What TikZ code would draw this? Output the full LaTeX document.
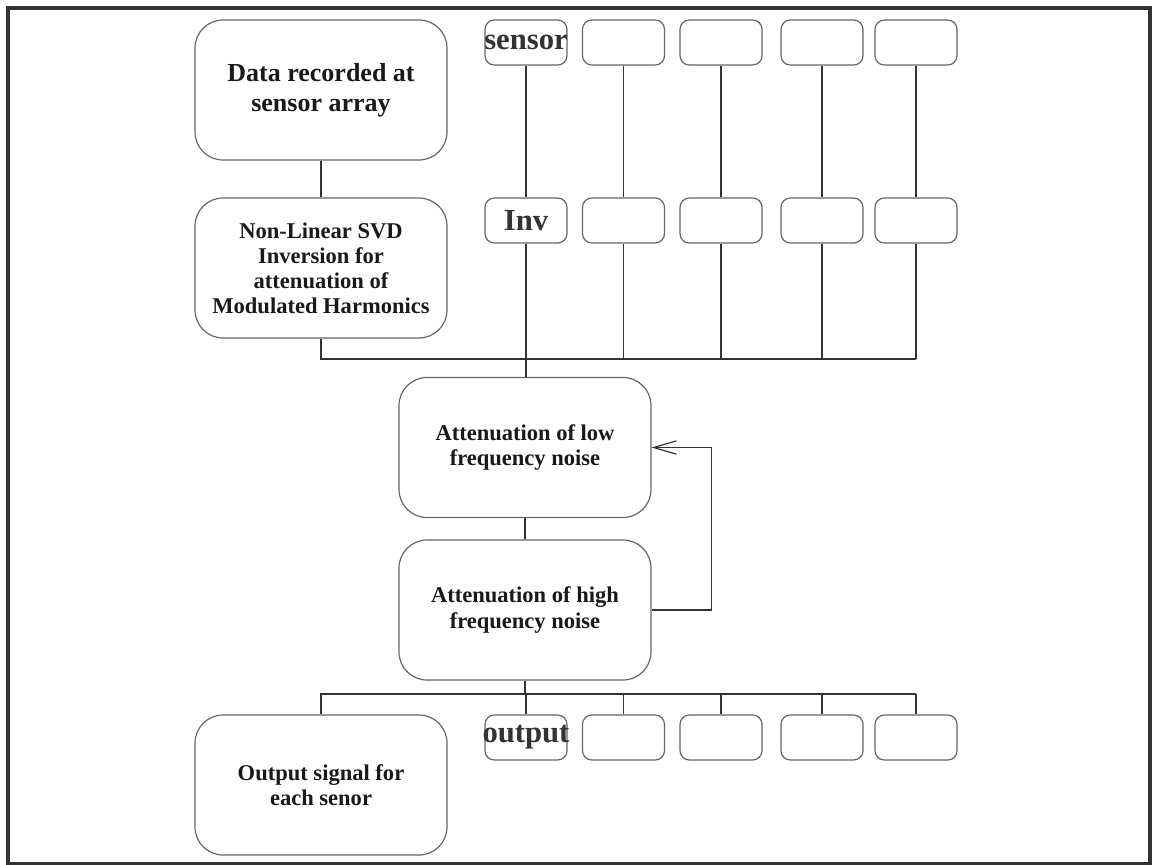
\documentclass[tikz,border=0pt]{standalone}
\usepackage{fontspec}
\setmainfont{Liberation Serif}
\usetikzlibrary{arrows.meta}
\tikzstyle{bigbox} = [rectangle, rounded corners=21pt, minimum width=189pt, minimum height=105pt, text centered, align=center, draw=black!60, line width=0.9pt, text=black!90, font=\bfseries\fontsize{16.9}{18.8}\selectfont]
\tikzstyle{smallbox} = [rectangle, rounded corners=7pt, minimum width=61.5pt, minimum height=33.75pt, inner sep=0pt, draw=black!60, line width=0.9pt]
\tikzstyle{tag} = [text=black!80, font=\bfseries\fontsize{23}{23}\selectfont]
\tikzstyle{wire} = [draw=black!80, line width=0.9pt]
\tikzstyle{arrow} = [wire, -{Straight Barb[length=17pt,width=10pt]}]

\begin{document}
\begin{tikzpicture}[x=0.75pt, y=-0.75pt]
				\useasboundingbox (0,0) rectangle (1152,864);
				\draw [black!80, line width=3pt] (8,8) rectangle (1150,864);	% frame

				% left column
				\node (data) [bigbox, font=\bfseries\fontsize{19.5}{22.5}\selectfont] at (321,90) {Data recorded at \\ sensor array};
				\node (nonlin) [bigbox] at (321,268) {Non-Linear SVD \\ Inversion for \\ attenuation of \\ Modulated Harmonics};
				\node (low) [bigbox] at (525,447.5) {Attenuation of low \\ frequency noise};
				\node (high) [bigbox] at (525,610) {Attenuation of high \\ frequency noise};
				\node (outsig) [bigbox] at (321,785) {Output signal for \\ each senor};

				% sensor row
				\node (s1) [smallbox, label={[tag]center:sensor}] at (526,42.5) {};
				\node (s2) [smallbox] at (623.5,42.5) {};
				\node (s3) [smallbox] at (721,42.5) {};
				\node (s4) [smallbox] at (822,42.5) {};
				\node (s5) [smallbox] at (916,42.5) {};

				% inversion row
				\node (i1) [smallbox, label={[tag]center:Inv}] at (526,220.5) {};
				\node (i2) [smallbox] at (623.5,220.5) {};
				\node (i3) [smallbox] at (721,220.5) {};
				\node (i4) [smallbox] at (822,220.5) {};
				\node (i5) [smallbox] at (916,220.5) {};

				% output row
				\node (o1) [smallbox, label={[tag]center:output}] at (526,737.5) {};
				\node (o2) [smallbox] at (623.5,737.5) {};
				\node (o3) [smallbox] at (721,737.5) {};
				\node (o4) [smallbox] at (822,737.5) {};
				\node (o5) [smallbox] at (916,737.5) {};

				\coordinate (topbus) at (916,359);
				\coordinate (botbus) at (916,694);

				\draw [wire] (data) -- (nonlin);
				\draw [wire] (s1) -- (i1);
				\draw [wire] (s2) -- (i2);
				\draw [wire] (s3) -- (i3);
				\draw [wire] (s4) -- (i4);
				\draw [wire] (s5) -- (i5);

				\draw [wire] (nonlin.south) |- (topbus);
				\draw [wire] (i1.south) -- (i1.south |- low.north);
				\draw [wire] (i2.south) -- (i2.south |- topbus);
				\draw [wire] (i3.south) -- (i3.south |- topbus);
				\draw [wire] (i4.south) -- (i4.south |- topbus);
				\draw [wire] (i5.south) -- (topbus);

				\draw [wire] (low) -- (high);
				\draw [arrow] (high.east) -- ++(60,0) |- (low.east);	% feedback

				\draw [wire] (high.south) -- (high.south |- botbus);
				\draw [wire] (outsig.north) |- (botbus);
				\draw [wire] (o1.north) -- (o1.north |- botbus);
				\draw [wire] (o2.north) -- (o2.north |- botbus);
				\draw [wire] (o3.north) -- (o3.north |- botbus);
				\draw [wire] (o4.north) -- (o4.north |- botbus);
				\draw [wire] (o5.north) -- (botbus);
\end{tikzpicture}
\end{document}
